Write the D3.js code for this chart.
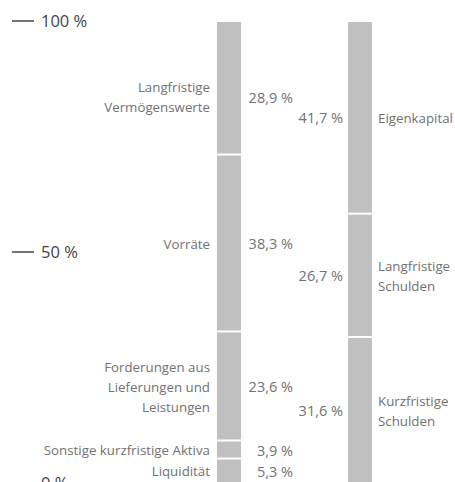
<!DOCTYPE html>
<html>
<head>
<meta charset="utf-8">
<script src="https://cdn.jsdelivr.net/npm/d3@7"></script>
<style>
  html, body { margin: 0; padding: 0; background: #fff; }
  svg text { font-family: "Open Sans", "Noto Sans", sans-serif; }
</style>
</head>
<body>
<div id="chart"></div>
<script>
// Bilanzstruktur, von unten nach oben gestapelt
var aktivaLabels = [["Liquidität"], ["Sonstige kurzfristige Aktiva"], ["Forderungen aus", "Lieferungen und", "Leistungen"], ["Vorräte"], ["Langfristige", "Vermögenswerte"]];
var aktivaValues = [5.3, 3.9, 23.6, 38.3, 28.9];
var passivaLabels = [["Kurzfristige", "Schulden"], ["Langfristige", "Schulden"], ["Eigenkapital"]];
var passivaValues = [31.6, 26.7, 41.7];
var tickValues = [0, 50, 100];

var width = 455, height = 482;

var svg = d3.select("#chart")
    .append("svg")
    .attr("width", width)
    .attr("height", height);

var y = d3.scaleLinear().domain([0, 100]).range([484, 22]);
var x = d3.scalePoint().domain(["aktiva", "passiva"]).range([229, 360]);
var barWidth = 24;
var textColor = "#727272";

function fmt(v) {
    return String(v.toFixed(1)).replace(".", ",") + " %";
}

function stack(values, labels) {
    var acc = 0;
    return values.map(function(v, i) {
        var d = { value: v, label: labels[i], y0: acc, y1: acc + v, top: i === values.length - 1 };
        acc += v;
        return d;
    });
}

// ticks
var ticks = svg.selectAll("g.tick")
    .data(tickValues).enter()
    .append("g")
    .attr("class", "tick");

ticks.append("line")
    .attr("x1", 12)
    .attr("x2", 34)
    .attr("y1", function(d) { return y(d) - 1; })
    .attr("y2", function(d) { return y(d) - 1; })
    .attr("stroke", "#444")
    .attr("stroke-width", 1.5);

ticks.append("text")
    .attr("x", 41)
    .attr("y", function(d) { return y(d) - 1; })
    .attr("dy", "0.35em")
    .attr("fill", "#444")
    .style("font-size", "16.5px")
    .text(function(d) { return d + " %"; });

function column(key, values, labels, side) {
    var data = stack(values, labels);
    var cx = x(key);
    var g = svg.append("g").attr("class", "column " + key);

    var seg = g.selectAll("g.segment")
        .data(data).enter()
        .append("g")
        .attr("class", "segment");

    seg.append("rect")
        .attr("x", cx - barWidth / 2)
        .attr("width", barWidth)
        .attr("y", function(d) { return y(d.y1); })
        .attr("height", function(d) { return Math.max(0, y(d.y0) - y(d.y1) - 2); })
        .attr("fill", "#c0c0c0");

    // the top left block sits a little lower in the original
    var mid = function(d) {
        var m = (y(d.y0) + y(d.y1)) / 2;
        return (side === "left" && d.top) ? m + 9 : m;
    };
    var lineH = 20;

    // value labels
    seg.append("text")
        .attr("x", side === "left" ? cx + 64 : cx - 17)
        .attr("y", mid)
        .attr("dy", "0.35em")
        .attr("text-anchor", "end")
        .attr("fill", textColor)
        .style("font-size", "14.5px")
        .text(function(d) { return fmt(d.value); });

    // category labels
    var lab = seg.append("text")
        .attr("text-anchor", side === "left" ? "end" : "start")
        .attr("fill", textColor)
        .style("font-size", "13.3px");

    lab.selectAll("tspan")
        .data(function(d) {
            var m = mid(d);
            var n = d.label.length;
            return d.label.map(function(t, i) {
                return { text: t, y: m + (i - (n - 1) / 2) * lineH };
            });
        }).enter()
        .append("tspan")
        .attr("x", side === "left" ? cx - barWidth / 2 - 7 : cx + barWidth / 2 + 6)
        .attr("y", function(d) { return d.y; })
        .attr("dy", "0.35em")
        .text(function(d) { return d.text; });
}

column("aktiva", aktivaValues, aktivaLabels, "left");
column("passiva", passivaValues, passivaLabels, "right");
</script>
</body>
</html>
